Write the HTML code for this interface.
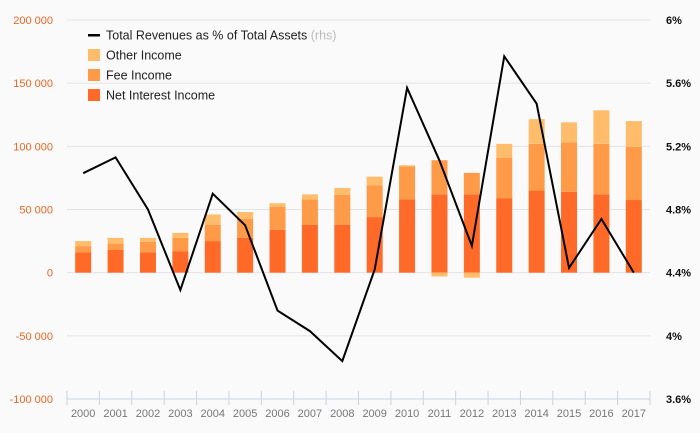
<!DOCTYPE html>
<html><head><meta charset="utf-8"><style>
body{margin:0;background:#fafafa;font-family:"Liberation Sans",sans-serif}
svg{display:block}
</style></head><body>
<svg width="700" height="433" id="c">
<rect width="700" height="433" fill="#fafafa"/>
</svg>
<script>
const years=["2000","2001","2002","2003","2004","2005","2006","2007","2008","2009","2010","2011","2012","2013","2014","2015","2016","2017"];
const netInterest=[16000,18000,16000,17000,25000,27500,34000,38000,38000,44000,58000,62000,62000,59000,65000,64000,62000,57500];
const feeIncome=[5000,5000,8500,10500,13000,15000,18000,20000,23500,25000,26000,27000,17000,32000,37000,39000,40000,42000];
const otherIncome=[4000,4500,3000,4000,8000,5500,3000,4000,5500,7000,1000,-3000,-4000,11000,19500,16000,26500,20500];
const ratioPct=[5.03,5.13,4.80,4.29,4.90,4.70,4.16,4.03,3.84,4.42,5.57,5.11,4.57,5.77,5.47,4.43,4.74,4.40];
const leftTicks=[200000,150000,100000,50000,0,-50000,-100000];
const leftTickLabels=["200 000","150 000","100 000","50 000","0","-50 000","-100 000"];
const rightTicks=[6,5.6,5.2,4.8,4.4,4,3.6];
const rightTickLabels=["6%","5.6%","5.2%","4.8%","4.4%","4%","3.6%"];
const NS="http://www.w3.org/2000/svg",svg=document.getElementById('c');
const X0=67,X1=650,YT=20,YB=399;
const yL=v=>YB-(v+100000)/300000*(YB-YT);
const yR=v=>YB-(v-3.6)/2.4*(YB-YT);
const step=(X1-X0)/years.length;
const xC=i=>X0+step*(i+0.5);
function mk(t,a,p){const e=document.createElementNS(NS,t);for(const k in a)e.setAttribute(k,a[k]);(p||svg).appendChild(e);return e;}
leftTicks.forEach((v,i)=>{
 if(i<leftTicks.length-1){const g=mk('line',{x1:X0,x2:X1,y1:yL(v),y2:yL(v),stroke:'#e3e3e3','stroke-width':1});
 
 }
 const t=mk('text',{x:53,y:yL(v)+4,'text-anchor':'end','font-size':11,fill:'#f26522'});t.textContent=leftTickLabels[i];
 
 
});
rightTicks.forEach((v,i)=>{
 const t=mk('text',{x:666,y:yR(v)+4,'font-size':11,'font-weight':'bold',fill:'#111'});t.textContent=rightTickLabels[i];
 
 
});
const ax=mk('line',{x1:X0,x2:X1,y1:YB,y2:YB,stroke:'#c8d4e8'});


for(let i=0;i<=years.length;i++){const x=X0+step*i;const tk=mk('line',{x1:x,x2:x,y1:YB-8,y2:YB+6,stroke:'#c8d4e8'});
 
 }
const bw=16;
years.forEach((y,i)=>{
 const x=xC(i)-bw/2;
 const t=mk('text',{x:xC(i),y:417,'text-anchor':'middle','font-size':11,fill:'#777'});t.textContent=y;
 
 
 let pos=0,neg=0;
 [[netInterest[i],'#ff6a28','bar-net-interest'],[feeIncome[i],'#ff9a48','bar-fee'],[otherIncome[i],'#ffbd6c','bar-other']].forEach(([v,c,n])=>{
  let a,b;if(v>=0){a=pos;b=pos+v;pos=b;}else{a=neg;b=neg+v;neg=b;}
  const r=mk('rect',{x:x,width:bw,y:Math.min(yL(a),yL(b)),height:Math.abs(yL(a)-yL(b)),fill:c});
  
  
 });
});
const pl=mk('polyline',{points:ratioPct.map((v,i)=>xC(i)+','+yR(v)).join(' '),fill:'none',stroke:'#000','stroke-width':2,'stroke-linejoin':'miter'});


const leg=[['line','#000','Total Revenues as % of Total Assets'],['box','#ffbd6c','Other Income'],['box','#ff9a48','Fee Income'],['box','#ff6a28','Net Interest Income']];
leg.forEach((l,i)=>{
 const y=35+i*20;
 const g=mk('g',{});
 
 
 if(l[0]==='line')mk('rect',{x:88,y:y-1,width:12,height:2.5,fill:'#000'},g);
 else mk('rect',{x:88,y:y-6,width:12,height:12,fill:l[1]},g);
 const t=mk('text',{x:106,y:y+4.5,'font-size':12.5,fill:'#222'},g);t.textContent=l[2];
 if(i===0){const s=mk('tspan',{fill:'#bbb'},t);s.textContent=' (rhs)';}
});
</script>
</body></html>
